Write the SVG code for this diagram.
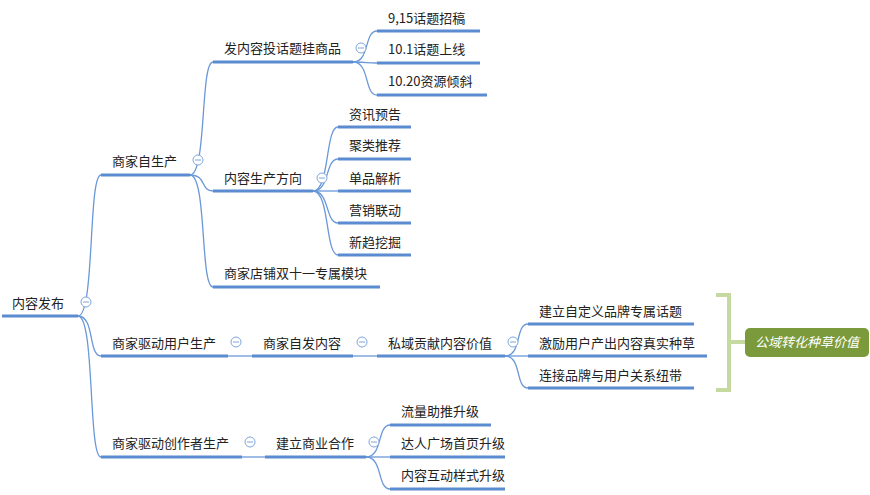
<svg xmlns="http://www.w3.org/2000/svg" width="870" height="495" viewBox="0 0 870 495">
<style>
text{font-family:"Noto Sans CJK SC","Liberation Sans",sans-serif;font-size:13px;fill:#222}
.u{stroke:#5B8BD0;stroke-width:3}
.c{fill:none;stroke:#6A98D8;stroke-width:1.3}
.t{fill:#fff;stroke:#7EA6DC;stroke-width:1}
.m{stroke:#7EA6DC;stroke-width:1}
</style>
<rect width="870" height="495" fill="#fff"/>
<g id="connectors" class="c">
<path d="M78 316 C95 316,88 175,101 175"/><path d="M78 316 C95 316,88 356,101 356"/><path d="M78 316 C95 316,88 457,101 457"/>
<path d="M190 175 C207 175,200 62,213 62"/><path d="M190 175 C207 175,200 191,213 191"/><path d="M190 175 C207 175,200 287,213 287"/>
<path d="M353 62 C370 62,364 31,377 31"/><path d="M353 62 C370 62,364 63,377 63"/><path d="M353 62 C370 62,364 95,377 95"/>
<path d="M313 191 C330 191,325 127,338 127"/><path d="M313 191 C330 191,325 159,338 159"/><path d="M313 191 L338 191"/><path d="M313 191 C330 191,325 223,338 223"/><path d="M313 191 C330 191,325 255,338 255"/>
<path d="M228 356 L252 356"/><path d="M353 356 L377 356"/>
<path d="M505 356 C522 356,515 324,528 324"/><path d="M505 356 L528 356"/><path d="M505 356 C522 356,515 388,528 388"/>
<path d="M242 457 L265 457"/>
<path d="M366 457 C383 457,377 425,390 425"/><path d="M366 457 L390 457"/><path d="M366 457 C383 457,377 489,390 489"/>
</g>
<g id="n-root"><line class="u" x1="2" y1="316" x2="78" y2="316"/><text x="12" y="308">内容发布</text><circle class="t" cx="86" cy="302" r="5"/><line class="m" x1="83" y1="302" x2="89" y2="302"/></g>
<g id="n1"><line class="u" x1="101" y1="175" x2="190" y2="175"/><text x="112" y="166">商家自生产</text><circle class="t" cx="198" cy="160" r="5"/><line class="m" x1="195" y1="160" x2="201" y2="160"/></g>
<g id="n2"><line class="u" x1="101" y1="356" x2="228" y2="356"/><text x="112" y="348">商家驱动用户生产</text><circle class="t" cx="236" cy="342" r="5"/><line class="m" x1="233" y1="342" x2="239" y2="342"/></g>
<g id="n3"><line class="u" x1="101" y1="457" x2="242" y2="457"/><text x="112" y="448">商家驱动创作者生产</text><circle class="t" cx="250" cy="442" r="5"/><line class="m" x1="247" y1="442" x2="253" y2="442"/></g>
<g id="n1a"><line class="u" x1="213" y1="62" x2="353" y2="62"/><text x="224" y="53">发内容投话题挂商品</text><circle class="t" cx="361" cy="48" r="5"/><line class="m" x1="358" y1="48" x2="364" y2="48"/></g>
<g id="n1b"><line class="u" x1="213" y1="191" x2="313" y2="191"/><text x="224" y="183">内容生产方向</text><circle class="t" cx="322" cy="178" r="5"/><line class="m" x1="319" y1="178" x2="325" y2="178"/></g>
<g id="n1c"><line class="u" x1="213" y1="287" x2="380" y2="287"/><text x="224" y="278">商家店铺双十一专属模块</text></g>
<g id="n1a1"><line class="u" x1="377" y1="31" x2="480" y2="31"/><text x="388" y="23">9,15话题招稿</text></g>
<g id="n1a2"><line class="u" x1="377" y1="63" x2="480" y2="63"/><text x="388" y="54">10.1话题上线</text></g>
<g id="n1a3"><line class="u" x1="377" y1="95" x2="487" y2="95"/><text x="388" y="86">10.20资源倾斜</text></g>
<g id="n1b1"><line class="u" x1="338" y1="127" x2="411" y2="127"/><text x="349" y="119">资讯预告</text></g>
<g id="n1b2"><line class="u" x1="338" y1="159" x2="411" y2="159"/><text x="349" y="150">聚类推荐</text></g>
<g id="n1b3"><line class="u" x1="338" y1="191" x2="411" y2="191"/><text x="349" y="183">单品解析</text></g>
<g id="n1b4"><line class="u" x1="338" y1="223" x2="411" y2="223"/><text x="349" y="215">营销联动</text></g>
<g id="n1b5"><line class="u" x1="338" y1="255" x2="411" y2="255"/><text x="349" y="247">新趋挖掘</text></g>
<g id="n2a"><line class="u" x1="252" y1="356" x2="353" y2="356"/><text x="263" y="348">商家自发内容</text><circle class="t" cx="362" cy="342" r="5"/><line class="m" x1="359" y1="342" x2="365" y2="342"/></g>
<g id="n2b"><line class="u" x1="377" y1="356" x2="505" y2="356"/><text x="388" y="348">私域贡献内容价值</text><circle class="t" cx="513" cy="342" r="5"/><line class="m" x1="510" y1="342" x2="516" y2="342"/></g>
<g id="n2b1"><line class="u" x1="528" y1="324" x2="694" y2="324"/><text x="539" y="316">建立自定义品牌专属话题</text></g>
<g id="n2b2"><line class="u" x1="528" y1="356" x2="707" y2="356"/><text x="539" y="348">激励用户产出内容真实种草</text></g>
<g id="n2b3"><line class="u" x1="528" y1="388" x2="694" y2="388"/><text x="539" y="380">连接品牌与用户关系纽带</text></g>
<g id="summary"><path d="M716 295 H729 V390 H716 M729 342 H745" fill="none" stroke="#C5D9A0" stroke-width="4"/><rect x="745" y="328" width="124" height="29" rx="5" fill="#7A9A3C"/><text x="807" y="347" text-anchor="middle" style="fill:#fff;font-style:italic">公域转化种草价值</text></g>
<g id="n3a"><line class="u" x1="265" y1="457" x2="366" y2="457"/><text x="276" y="448">建立商业合作</text><circle class="t" cx="374" cy="442" r="5"/><line class="m" x1="371" y1="442" x2="377" y2="442"/></g>
<g id="n3a1"><line class="u" x1="390" y1="425" x2="491" y2="425"/><text x="401" y="416">流量助推升级</text></g>
<g id="n3a2"><line class="u" x1="390" y1="457" x2="505" y2="457"/><text x="401" y="448">达人广场首页升级</text></g>
<g id="n3a3"><line class="u" x1="390" y1="489" x2="505" y2="489"/><text x="401" y="480">内容互动样式升级</text></g>
</svg>
